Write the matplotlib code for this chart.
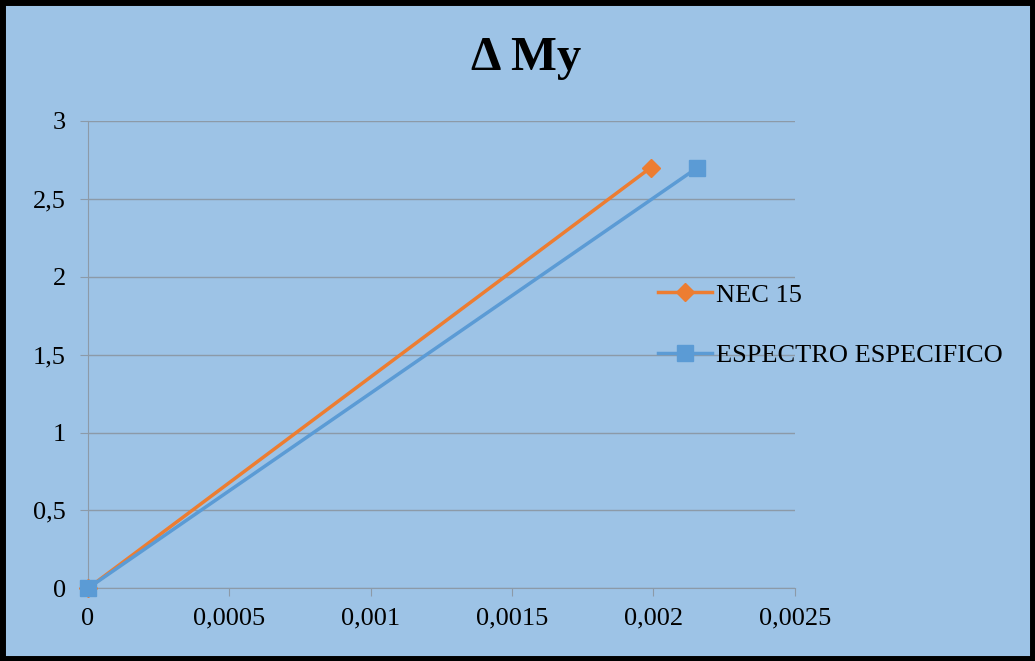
import matplotlib
matplotlib.use("Agg")
import matplotlib.pyplot as plt
from matplotlib.patches import Rectangle
from matplotlib.ticker import FuncFormatter

# data
nec_x = [0, 0.00199]
nec_y = [0, 2.7]
esp_x = [0, 0.002155]
esp_y = [0, 2.7]

x_ticks = [0, 0.0005, 0.001, 0.0015, 0.002, 0.0025]
y_ticks = [0, 0.5, 1, 1.5, 2, 2.5, 3]

bg = "#9dc3e6"
plt.rcParams['font.family'] = ['Liberation Serif', 'DejaVu Serif']

fig = plt.figure(figsize=(10.35, 6.61), dpi=100, facecolor=bg)
ax = fig.add_axes([0.085, 0.110, 0.683, 0.707])
ax.set_facecolor(bg)

ax.plot(nec_x, nec_y, color="#ed7d31", lw=2.5, marker="D", ms=9, label="NEC 15",
        zorder=3, clip_on=False)
ax.plot(esp_x, esp_y, color="#5b9bd5", lw=2.5, marker="s", ms=11, label="ESPECTRO ESPECIFICO",
        zorder=3, clip_on=False)

ax.set_xlim(0, 0.0025)
ax.set_ylim(0, 3)
ax.set_xticks(x_ticks)
ax.set_yticks(y_ticks)
ax.xaxis.set_major_formatter(FuncFormatter(lambda v, p: "0" if v == 0 else ("%.4f" % v).rstrip("0").replace(".", ",")))
ax.yaxis.set_major_formatter(FuncFormatter(lambda v, p: ("%g" % v).replace(".", ",")))
ax.grid(axis="y", color="#8c9aa8", lw=1)
for s in ["top", "right"]:
    ax.spines[s].set_visible(False)
for s in ["left", "bottom"]:
    ax.spines[s].set_color("#8c9aa8")
ax.tick_params(colors="#8c9aa8", labelcolor="black", labelsize=19, length=6, direction="out")
ax.tick_params(axis="x", pad=8)
ax.tick_params(axis="y", pad=10)
ax.set_axisbelow(True)

fig.text(526 / 1035, 1 - 58 / 661, "Δ My", fontsize=35, fontweight="bold",
         ha="center", va="center")

leg = fig.legend(loc="center left", bbox_to_anchor=(658 / 1035, 1 - 325 / 661), frameon=False,
                 fontsize=19, handlelength=2.05, handletextpad=0.15, labelspacing=1.4,
                 borderpad=0, borderaxespad=0)

fig.patches.append(Rectangle((0.002, 0.003), 0.996, 0.994, transform=fig.transFigure,
                             fill=False, edgecolor="black", lw=5))

fig.savefig("out.png", dpi=100, facecolor=bg)
